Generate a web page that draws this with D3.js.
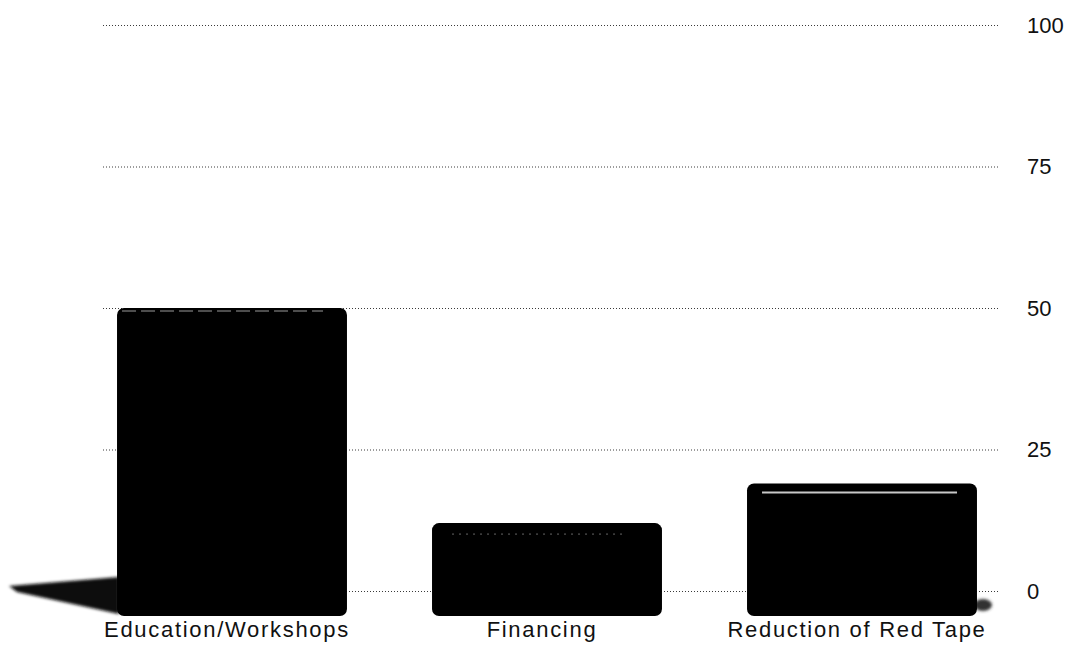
<!DOCTYPE html>
<html>
<head>
<meta charset="utf-8">
<script src="https://cdn.jsdelivr.net/npm/d3@7"></script>
<style>
  html, body { margin: 0; padding: 0; background: #fff; }
  svg { display: block; }
</style>
</head>
<body>
<svg id="chart" width="1073" height="649"></svg>
<script>
const categories = ["Education/Workshops", "Financing", "Reduction of Red Tape"];
const values = [50, 12, 19];
const tickValues = [0, 25, 50, 75, 100];
const tickLabels = ["0", "25", "50", "75", "100"];

const W = 1073, H = 649;
const svg = d3.select("#chart");

const defs = svg.append("defs");
defs.append("filter").attr("id", "blur").attr("x", "-20%").attr("y", "-50%").attr("width", "140%").attr("height", "200%")
  .append("feGaussianBlur").attr("stdDeviation", 1.6);

const x = d3.scaleBand().domain(categories).range([74.5, 1019.5]).paddingInner(0.27).paddingOuter(0.135);
const y = d3.scaleLinear().domain([0, 100]).range([591, 25]);

const gridLeft = 103, gridRight = 998;
const baseDrop = 25; // bars extend below the baseline (3D-style base)

// gridlines
svg.append("g").selectAll("line").data(tickValues).join("line")
  .attr("x1", gridLeft).attr("x2", gridRight)
  .attr("y1", d => y(d) + 0.5).attr("y2", d => y(d) + 0.5)
  .attr("stroke", "#3a3a3a").attr("stroke-width", 1).attr("stroke-dasharray", "1,2");

// right axis labels
svg.append("g").selectAll("text").data(tickValues).join("text")
  .attr("x", 1027).attr("y", d => y(d)).attr("dy", "0.36em")
  .attr("font-family", "'Liberation Sans', Arial, Helvetica, sans-serif")
  .attr("font-size", 22).attr("fill", "#111")
  .text((d, i) => tickLabels[i]);

// shadow wedge left of first bar
const x0 = x(categories[0]), y0 = y(0);
svg.append("path")
  .attr("d", `M${x0 + 2},${y0 - 14} L${x0 - 108},${y0 - 5} L${x0 - 100},${y0 + 1} L${x0 + 2},${y0 + 23} Z`)
  .attr("fill", "#111").attr("filter", "url(#blur)");

// small shadow speck right of last bar
const xl = x(categories[2]) + x.bandwidth();
svg.append("ellipse").attr("cx", xl + 6).attr("cy", y0 + 14).attr("rx", 9).attr("ry", 6)
  .attr("fill", "#333").attr("filter", "url(#blur)");

// bars
svg.append("g").selectAll("rect").data(values).join("rect")
  .attr("x", (d, i) => x(categories[i]))
  .attr("width", x.bandwidth())
  .attr("y", d => y(d))
  .attr("height", d => y(0) - y(d) + baseDrop)
  .attr("rx", 7).attr("ry", 7)
  .attr("fill", "#000");

// faint highlight lines near bar tops
const hl = [
  { i: 0, off: 3, a: 5, b: 206, color: "#9a9a9a", w: 1, dash: "14,5" },
  { i: 1, off: 11, a: 20, b: 190, color: "#666", w: 1, dash: "2,5" },
  { i: 2, off: 9, a: 15, b: 210, color: "#c8c8c8", w: 2, dash: null }
];
svg.append("g").selectAll("line").data(hl).join("line")
  .attr("x1", d => x(categories[d.i]) + d.a)
  .attr("x2", d => x(categories[d.i]) + d.b)
  .attr("y1", d => y(values[d.i]) + d.off)
  .attr("y2", d => y(values[d.i]) + d.off)
  .attr("stroke", d => d.color).attr("stroke-width", d => d.w)
  .attr("stroke-dasharray", d => d.dash);

// category labels
svg.append("g").selectAll("text").data(categories).join("text")
  .attr("x", d => x(d) + x.bandwidth() / 2 - 5)
  .attr("y", 637)
  .attr("text-anchor", "middle")
  .attr("font-family", "'Liberation Sans', Arial, Helvetica, sans-serif")
  .attr("font-size", 22).attr("letter-spacing", "1.7px").attr("fill", "#111")
  .text(d => d);
</script>
</body>
</html>
